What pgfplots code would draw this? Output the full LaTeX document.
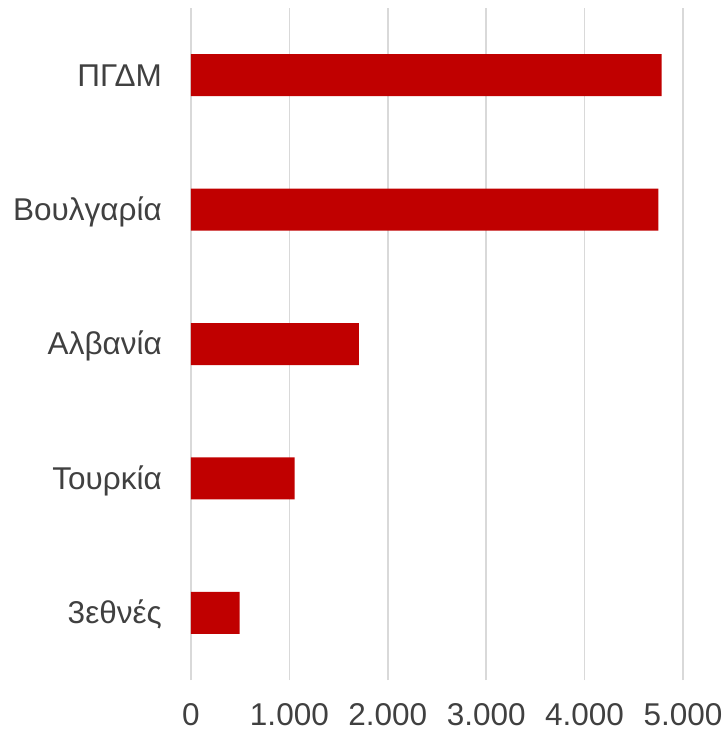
\documentclass[border=0pt]{standalone}
\usepackage{fontspec}
\setmainfont{Liberation Sans}
\usepackage{pgfplots}
\pgfplotsset{compat=1.18}
\definecolor{barred}{HTML}{C00000}
\definecolor{gridgray}{HTML}{D9D9D9}
\definecolor{textgray}{HTML}{404040}

\begin{document}
\begin{tikzpicture}
\begin{axis}[
    at={(0,0)}, anchor=south west,
    scale only axis,
    width=492pt, height=672pt,
    xbar, bar width=42pt,
    xmin=0, xmax=5000,
    ymin=-0.5, ymax=4.5,
    xtick={0,1000,...,5000},
    ytick={0,...,4},
    yticklabels={3εθνές, Τουρκία, Αλβανία, Βουλγαρία, ΠΓΔΜ},
    xmajorgrids,
    major grid style={gridgray, line width=1.6pt},
    axis line style={draw=none},
    major tick length=0pt,
    tick label style={font=\fontsize{31.5}{36}\selectfont, text=textgray, inner sep=0pt},
    /pgf/number format/assume math mode=true,
    /pgf/number format/1000 sep={.},
    xticklabel style={anchor=base, yshift=-45.5pt},
    yticklabel style={anchor=base east, xshift=-29pt, yshift=-11pt},
]
% values
\addplot[fill=barred, draw=none]
    coordinates {(494,0) (1053,1) (1706,2) (4751,3) (4784,4)};
\end{axis}
\path[use as bounding box] (-191pt,-52pt) rectangle (536pt,680pt);
\end{tikzpicture}
\end{document}
